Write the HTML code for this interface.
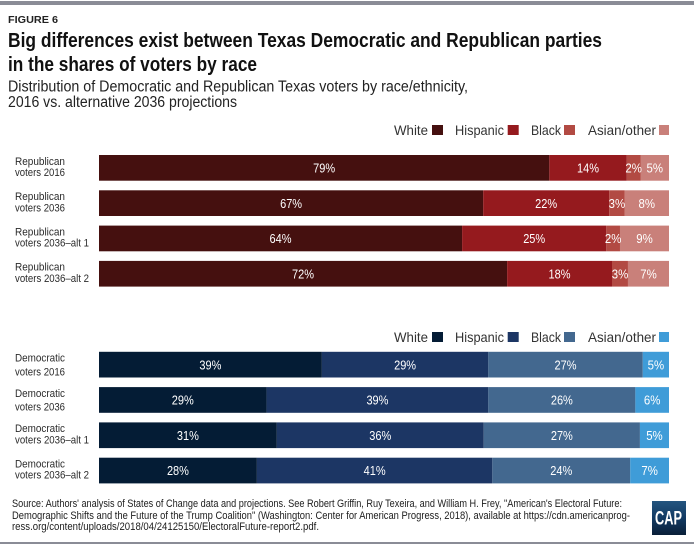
<!DOCTYPE html>
<html lang="en">
<head>
<meta charset="utf-8">
<title>Figure 6</title>
<style>
html,body{margin:0;padding:0;background:#fff;width:694px;height:545px;overflow:hidden}
svg{display:block;font-family:"Liberation Sans",sans-serif}
</style>
</head>
<body>
<svg id="chart" xmlns="http://www.w3.org/2000/svg" width="694" height="545" viewBox="0 0 694 545">
  <defs>
    <linearGradient id="capGrad" x1="0" y1="0" x2="0" y2="1">
      <stop offset="0" stop-color="#24557f"/>
      <stop offset="0.5" stop-color="#123a63"/>
      <stop offset="1" stop-color="#0a1f38"/>
    </linearGradient>
  </defs>
  <rect x="0" y="1" width="694" height="4" fill="#8a8c96"/>
  <text x="8" y="23" font-size="10" font-weight="bold" fill="#222" textLength="50" lengthAdjust="spacingAndGlyphs">FIGURE 6</text>
  <text x="8" y="47" font-size="20" font-weight="bold" fill="#111" textLength="594" lengthAdjust="spacingAndGlyphs">Big differences exist between Texas Democratic and Republican parties</text>
  <text x="8" y="71" font-size="20" font-weight="bold" fill="#111" textLength="249" lengthAdjust="spacingAndGlyphs">in the shares of voters by race</text>
  <text x="8" y="91.5" font-size="15.5" fill="#222" textLength="460" lengthAdjust="spacingAndGlyphs">Distribution of Democratic and Republican Texas voters by race/ethnicity,</text>
  <text x="8" y="107" font-size="15.5" fill="#222" textLength="229" lengthAdjust="spacingAndGlyphs">2016 vs. alternative 2036 projections</text>

  <g id="legends"></g>
  <g id="rep-panel"></g>
  <g id="dem-panel"></g>

  <text x="12" y="507" font-size="11" fill="#1c1c1c" textLength="610" lengthAdjust="spacingAndGlyphs">Source: Authors' analysis of States of Change data and projections. See Robert Griffin, Ruy Texeira, and William H. Frey, "American's Electoral Future:</text>
  <text x="12" y="519" font-size="11" fill="#1c1c1c" textLength="618" lengthAdjust="spacingAndGlyphs">Demographic Shifts and the Future of the Trump Coalition" (Washington: Center for American Progress, 2018), available at https://cdn.americanprog-</text>
  <text x="12" y="530" font-size="11" fill="#1c1c1c" textLength="307" lengthAdjust="spacingAndGlyphs">ress.org/content/uploads/2018/04/24125150/ElectoralFuture-report2.pdf.</text>

  <g>
    <rect x="652" y="501" width="34" height="34" fill="url(#capGrad)"/>
    <text x="655" y="524.5" font-size="19" font-weight="bold" fill="#fff" textLength="27" lengthAdjust="spacingAndGlyphs">CAP</text>
  </g>
  <rect x="0" y="542" width="694" height="2" fill="#8a8c96"/>
</svg>
<script>
const seriesNames = ["White", "Hispanic", "Black", "Asian/other"];

const repCategories = [
  ["Republican", "voters 2016"],
  ["Republican", "voters 2036"],
  ["Republican", "voters 2036–alt 1"],
  ["Republican", "voters 2036–alt 2"]
];
const repWhite = [79.0, 67.4, 63.7, 71.6];
const repHispanic = [13.6, 22.1, 25.3, 18.4];
const repBlack = [2.4, 2.7, 2.4, 2.8];
const repAsian = [5.0, 7.8, 8.6, 7.2];

const demCategories = [
  ["Democratic", "voters 2016"],
  ["Democratic", "voters 2036"],
  ["Democratic", "voters 2036–alt 1"],
  ["Democratic", "voters 2036–alt 2"]
];
const demWhite = [39.1, 29.4, 31.2, 27.7];
const demHispanic = [29.2, 38.9, 36.3, 41.3];
const demBlack = [27.1, 25.8, 27.4, 24.2];
const demAsian = [4.6, 5.9, 5.1, 6.8];

const repColors = ["#45100f", "#951a1e", "#b24a43", "#c9807a"];
const demColors = ["#041c35", "#1c3664", "#43688f", "#3f9cd8"];

const NS = "http://www.w3.org/2000/svg";
const xScale = v => 99 + (v / 100) * 570;
const rowTop = (top, i) => top + i * 35.3;
const BAR_H = 25.7;

function makeText(parent, str, x, y, size, fill, length, anchor) {
  const t = document.createElementNS(NS, "text");
  t.setAttribute("x", x);
  t.setAttribute("y", y);
  t.setAttribute("font-size", size);
  t.setAttribute("fill", fill);
  t.setAttribute("textLength", length);
  t.setAttribute("lengthAdjust", "spacingAndGlyphs");
  if (anchor) t.setAttribute("text-anchor", anchor);
  t.textContent = str;
  parent.appendChild(t);
  return t;
}

function drawPanel(parent, prefix, top, categories, series, colors) {
  categories.forEach((cat, i) => {
    const y = rowTop(top, i);
    const isAlt = cat[1].indexOf("alt") >= 0;
    const gap = (prefix === "dem" && !isAlt) ? 13.7 : 11.2;
    const l1 = makeText(parent, cat[0], 15, y + 9.8, 11.2, "#2b2b2b", 50);
    
    
    const l2 = makeText(parent, cat[1], 15, y + 9.8 + gap, 11.2, "#2b2b2b", isAlt ? 74 : 50);
    
    

    let cum = 0;
    series.forEach((vals, s) => {
      const v = vals[i];
      const x0 = xScale(cum);
      const x1 = xScale(cum + v);
      const r = document.createElementNS(NS, "rect");
      r.setAttribute("x", x0);
      r.setAttribute("y", y);
      r.setAttribute("width", x1 - x0);
      r.setAttribute("height", BAR_H);
      r.setAttribute("fill", colors[s]);
      
      
      parent.appendChild(r);
      cum += v;
    });

    cum = 0;
    series.forEach((vals) => {
      const v = vals[i];
      const label = Math.round(v) + "%";
      const cx = (xScale(cum) + xScale(cum + v)) / 2;
      const t = makeText(parent, label, cx, y + BAR_H / 2 + 4.6, 13, "#fff", label.length === 3 ? 22 : 16.5, "middle");
      
      
      cum += v;
    });
  });
}

function drawLegend(parent, baseline, colors) {
  const textX = [394, 455, 531, 588];
  const textW = [34, 49, 30, 68];
  const swatchX = [432, 507.7, 564, 659];
  seriesNames.forEach((name, i) => {
    const t = makeText(parent, name, textX[i], baseline, 14, "#333", textW[i]);
    
    
    const r = document.createElementNS(NS, "rect");
    r.setAttribute("x", swatchX[i]);
    r.setAttribute("y", baseline - 10);
    r.setAttribute("width", i === 3 ? 10 : 11);
    r.setAttribute("height", 10);
    r.setAttribute("fill", colors[i]);
    
    
    parent.appendChild(r);
  });
}

const legends = document.getElementById("legends");
drawLegend(legends, 135, repColors);
drawLegend(legends, 342, demColors);
drawPanel(document.getElementById("rep-panel"), "rep", 155,
  repCategories, [repWhite, repHispanic, repBlack, repAsian], repColors);
drawPanel(document.getElementById("dem-panel"), "dem", 351.8,
  demCategories, [demWhite, demHispanic, demBlack, demAsian], demColors);
</script>
</body>
</html>
